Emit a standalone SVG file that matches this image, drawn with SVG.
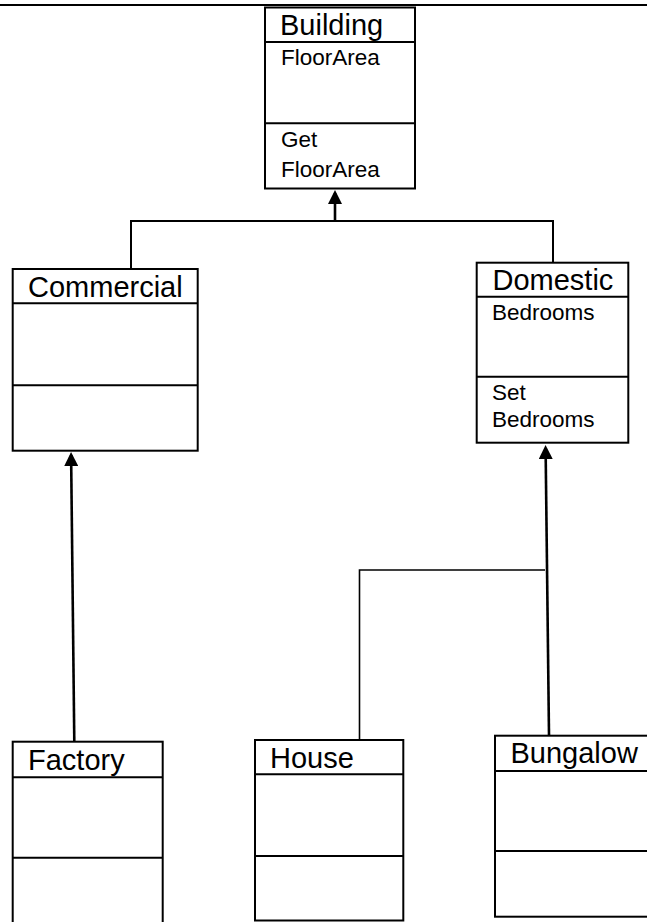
<svg xmlns="http://www.w3.org/2000/svg" width="647" height="922" viewBox="0 0 647 922">
  <style>
    .box { fill: #ffffff; stroke: #000000; stroke-width: 2; }
    .div { stroke: #000000; stroke-width: 2; }
    .title { font-family: "Liberation Sans", Arial, sans-serif; font-size: 29px; fill: #000000; }
    .attr { font-family: "Liberation Sans", Arial, sans-serif; font-size: 22.5px; fill: #000000; }
    .conn { fill: none; stroke: #000000; stroke-width: 2; }
    .arrow { fill: none; stroke: #000000; stroke-width: 2.6; marker-end: url(#head); }
    .thin { fill: none; stroke: #000000; stroke-width: 1.6; }
  </style>
  <defs>
    <marker id="head" markerUnits="userSpaceOnUse" markerWidth="14" markerHeight="14" refX="11" refY="7" orient="auto">
      <path d="M0,0 L14,7 L0,14 z" fill="#000000"/>
    </marker>
  </defs>
  <rect x="0" y="0" width="647" height="922" fill="#ffffff"/>
  <line x1="0" y1="5" x2="647" y2="5" stroke="#000000" stroke-width="2"/>

  <g id="connectors">
    <line class="arrow" x1="335" y1="221" x2="335" y2="193"/>
    <polyline class="conn" points="131,268 131,221 553,221 553,263"/>
    <line class="arrow" x1="74.3" y1="742" x2="71.1" y2="455"/>
    <line class="arrow" x1="549" y1="735" x2="545.6" y2="448"/>
    <polyline class="thin" points="545,570 359.5,570 359.5,740"/>
  </g>

  <g id="building">
    <rect class="box" x="265" y="7.5" width="150" height="181"/>
    <line class="div" x1="265" y1="42" x2="415" y2="42"/>
    <line class="div" x1="265" y1="123.3" x2="415" y2="123.3"/>
    <text class="title" x="280" y="35">Building</text>
    <text class="attr" x="281" y="64.5">FloorArea</text>
    <text class="attr" x="281" y="147">Get</text>
    <text class="attr" x="281" y="176.5">FloorArea</text>
  </g>

  <g id="commercial">
    <rect class="box" x="12.7" y="269" width="185" height="181.7"/>
    <line class="div" x1="12.7" y1="303.3" x2="197.7" y2="303.3"/>
    <line class="div" x1="12.7" y1="385.3" x2="197.7" y2="385.3"/>
    <text class="title" x="28" y="297">Commercial</text>
  </g>

  <g id="domestic">
    <rect class="box" x="476.7" y="262.7" width="151.6" height="180"/>
    <line class="div" x1="476.7" y1="296.7" x2="628.3" y2="296.7"/>
    <line class="div" x1="476.7" y1="376.7" x2="628.3" y2="376.7"/>
    <text class="title" x="492.5" y="289.5">Domestic</text>
    <text class="attr" x="492" y="319.5">Bedrooms</text>
    <text class="attr" x="492" y="399.5">Set</text>
    <text class="attr" x="492" y="427">Bedrooms</text>
  </g>

  <g id="factory">
    <rect class="box" x="12.7" y="741.7" width="150" height="200"/>
    <line class="div" x1="12.7" y1="777.3" x2="162.7" y2="777.3"/>
    <line class="div" x1="12.7" y1="857.7" x2="162.7" y2="857.7"/>
    <text class="title" x="28" y="770">Factory</text>
  </g>

  <g id="house">
    <rect class="box" x="255" y="740" width="148.3" height="180.5"/>
    <line class="div" x1="255" y1="774.3" x2="403.3" y2="774.3"/>
    <line class="div" x1="255" y1="856" x2="403.3" y2="856"/>
    <text class="title" x="270" y="767.5">House</text>
  </g>

  <g id="bungalow">
    <rect class="box" x="495" y="735.7" width="170" height="181"/>
    <line class="div" x1="495" y1="771" x2="665" y2="771"/>
    <line class="div" x1="495" y1="851" x2="665" y2="851"/>
    <text class="title" x="510.5" y="763">Bungalow</text>
  </g>
</svg>
